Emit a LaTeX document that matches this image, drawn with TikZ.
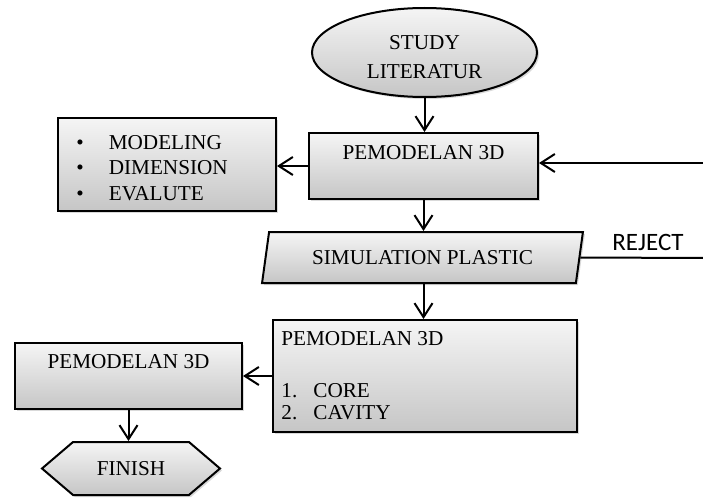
\documentclass[tikz,border=0pt]{standalone}
\usepackage{fontspec}
\setmainfont{Liberation Serif}
\newfontfamily\rejfont{Carlito}
\usetikzlibrary{positioning, shapes.geometric, shapes.symbols, arrows.meta, shadows}

\begin{document}
\begin{tikzpicture}[x=0.5pt, y=-0.5pt,
  every node/.style={font=\fontsize{10.6}{12.5}\selectfont},
  blok/.style={draw, line width=1pt, top color=gray!8, bottom color=gray!45,
    drop shadow={shadow xshift=1pt, shadow yshift=-1pt, opacity=0.3}},
  arr/.style={line width=1pt, -{Straight Barb[length=7pt, width=9pt]}}]
\useasboundingbox (0,0) rectangle (703,498);

\node[blok, ellipse, minimum width=112.5pt, minimum height=44.5pt] (lit) at (424.5,52.5) {};
\node[align=center, inner sep=0pt] (litt) at ([yshift=-2.5pt]lit.center) {STUDY\\[2pt]LITERATUR};

\node[blok, minimum width=114.5pt, minimum height=33pt] (pem1) at (423.5,166) {};
\node (pem1t) at ([yshift=-10.5pt]pem1.north) {PEMODELAN 3D};

\node[blok, minimum width=109pt, minimum height=46.5pt] (lst) at (167,164.5) {};
\node[right=9.5pt of lst.west, yshift=-1.75pt, inner sep=0pt, align=left, font=\fontsize{10.6}{12.7}\selectfont] (lstt)
  {\textbullet\hspace{12.5pt}MODELING\\\textbullet\hspace{12.5pt}DIMENSION\\\textbullet\hspace{12.5pt}EVALUTE};

\node[blok, trapezium, trapezium left angle=79, trapezium right angle=101, trapezium stretches=true,
  minimum width=160.5pt, minimum height=25.5pt] (sim) at (422.5,257.5) {SIMULATION PLASTIC};
\coordinate (rej) at (703,258);
\node[font=\rejfont\fontsize{12.5}{14}\selectfont] (rejt) at (648,242) {REJECT};

\node[blok, minimum width=152pt, minimum height=56pt] (pem2) at (425,376) {};
\node[anchor=west, inner sep=0pt] (pem2t) at ([xshift=4.5pt, yshift=-10pt]pem2.north west) {PEMODELAN 3D};
\node[anchor=west, inner sep=0pt, align=left, font=\fontsize{10.6}{10.8}\selectfont] (pem2l) at ([xshift=4.5pt, yshift=-41.25pt]pem2.north west)
  {\makebox[16pt][l]{1.}CORE\\\makebox[16pt][l]{2.}CAVITY};

\node[blok, minimum width=113.5pt, minimum height=33pt] (pem3) at (128.5,376) {};
\node (pem3t) at ([yshift=-10pt]pem3.north) {PEMODELAN 3D};

\node[blok, signal, signal to=west and east, signal pointer angle=81, minimum width=89pt, minimum height=26.5pt] (fin) at (131,468.5) {FINISH};

\coordinate (inR) at (703,163);
\draw[arr] (lit.south) -- (lit.south |- pem1.north);
\draw[arr] (pem1.west) -- (pem1.west -| lst.east);
\draw[arr] (inR) -- (inR -| pem1.east);
\draw[arr] (pem1.south) -- (pem1.south |- sim.north);
\draw[line width=1pt] (sim.east) -- (rej);
\draw[arr] (pem1.south |- sim.south) -- (pem1.south |- pem2.north);
\draw[arr] (pem2.west) -- (pem3.east);
\draw[arr] (pem3.south) -- (pem3.south |- fin.north);
\end{tikzpicture}
\end{document}
